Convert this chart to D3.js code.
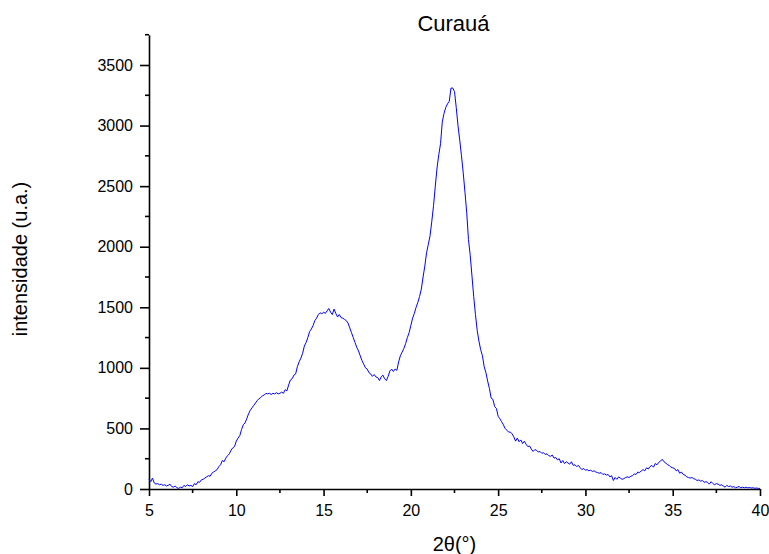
<!DOCTYPE html>
<html>
<head>
<meta charset="utf-8">
<script src="https://cdn.jsdelivr.net/npm/d3@7/dist/d3.min.js"></script>
<style>
html,body{margin:0;padding:0;background:#fff;}
text{font-family:"Liberation Sans",Arial,sans-serif;fill:#000;}
</style>
</head>
<body>
<svg id="chart" width="769" height="554"></svg>
<script>
const title = "Curauá";
const xLabel = "2θ(°)";
const yLabel = "intensidade (u.a.)";
const xTicks = [5, 10, 15, 20, 25, 30, 35, 40];
const yTicks = [0, 500, 1000, 1500, 2000, 2500, 3000, 3500];
const scanStart = 5.0;
const scanStep = 0.1;
const intensity = [
 80,60,90,50,40,45,35,40,30,35,
 25,30,40,20,15,25,10,5,15,10,
 30,20,35,25,30,20,45,35,60,55,
 75,80,90,100,110,105,130,140,150,160,
 185,200,235,225,255,275,290,320,340,350,
 395,420,440,490,530,545,580,620,650,670,
 690,710,730,745,755,770,775,790,785,790,
 780,790,785,795,785,790,800,790,820,810,
 860,900,910,940,950,1010,1050,1080,1120,1180,
 1210,1250,1300,1320,1350,1390,1410,1440,1455,1445,
 1460,1450,1470,1490,1460,1440,1485,1450,1420,1440,
 1415,1410,1400,1390,1370,1330,1290,1250,1210,1170,
 1140,1100,1060,1030,1000,990,960,950,930,945,
 925,920,895,925,940,910,895,930,975,990,
 970,990,980,1050,1100,1130,1160,1200,1250,1290,
 1350,1410,1450,1500,1540,1590,1650,1750,1840,1950,
 2020,2090,2210,2340,2500,2650,2760,2850,3030,3100,
 3150,3180,3200,3310,3310,3280,3150,3000,2880,2750,
 2610,2450,2280,2060,1930,1760,1590,1440,1310,1220,
 1150,1100,1010,960,890,830,750,740,680,665,
 600,580,555,530,500,485,470,470,455,430,
 395,420,390,405,375,395,370,350,355,330,
 310,325,320,305,310,295,300,285,290,275,
 270,280,255,260,240,250,215,235,210,225,
 215,205,225,195,200,185,195,175,160,170,
 155,160,150,155,145,150,140,135,130,135,
 120,125,115,120,100,110,70,95,80,100,
 90,80,85,95,100,95,105,110,125,120,
 140,135,150,160,150,175,165,185,195,180,
 210,200,220,230,245,225,215,200,195,180,
 175,170,150,160,130,140,120,115,100,95,
 90,95,85,80,70,75,65,70,55,60,
 55,40,60,45,35,45,40,30,35,25,
 15,30,20,25,15,20,10,15,20,10,
 15,10,15,10,12,8,10,6,8,5,
 5
];
const twoTheta = intensity.map((_, i) => +(scanStart + i * scanStep).toFixed(2));
const points = twoTheta.map((t, i) => ({x: t, y: intensity[i]}));

const svg = d3.select("#chart");
const left = 149, right = 760, bottom = 489;
const x = d3.scaleLinear().domain([5, 40]).range([left, right]);
const y = d3.scaleLinear().domain([0, 3500]).range([bottom, 65]);
const yTop = 3750;
const fontFam = '"Liberation Sans",Arial,sans-serif';

// minor ticks
const xMinor = d3.range(7.5, 40, 5);
const yMinor = d3.range(250, 3751, 500);

const gx = svg.append("g").attr("transform", `translate(0,${bottom})`);
gx.call(d3.axisBottom(x).tickValues(xTicks).tickSize(7).tickSizeOuter(0).tickPadding(9).tickFormat(d3.format("d")));
gx.append("g").selectAll("line").data(xMinor).join("line")
  .attr("x1", d => x(d)).attr("x2", d => x(d)).attr("y1", 0).attr("y2", 4)
  .attr("stroke", "#000").attr("stroke-width", 1.6);

const yFull = y.copy().domain([0, yTop]).range([bottom, y(yTop)]);
const gy = svg.append("g").attr("transform", `translate(${left},0)`);
gy.call(d3.axisLeft(yFull).tickValues(yTicks).tickSize(9).tickSizeOuter(0).tickPadding(7).tickFormat(d3.format("d")));
gy.append("g").selectAll("line").data(yMinor).join("line")
  .attr("x1", 0).attr("x2", -4).attr("y1", d => y(d)).attr("y2", d => y(d))
  .attr("stroke", "#000").attr("stroke-width", 1.6);

[gx, gy].forEach(g => {
  g.select(".domain").attr("stroke", "#000").attr("stroke-width", 1.6);
  g.selectAll(".tick line").attr("stroke", "#000").attr("stroke-width", 1.6);
  g.selectAll(".tick text").attr("font-size", 16).attr("font-family", fontFam).attr("fill", "#000");
});

// curve
const line = d3.line().x(d => x(d.x)).y(d => y(d.y));
svg.append("path").datum(points)
  .attr("d", line)
  .attr("fill", "none")
  .attr("stroke", "#0000ff")
  .attr("stroke-width", 1)
  .attr("stroke-linejoin", "round");

// title
svg.append("text").attr("x", 453.5).attr("y", 30.5)
  .attr("text-anchor", "middle").attr("font-size", 22).text(title);

// x label
svg.append("text").attr("x", (left + right) / 2).attr("y", 551)
  .attr("text-anchor", "middle").attr("font-size", 20).text(xLabel);

// y label
svg.append("text").attr("transform", `translate(27,259) rotate(-90)`)
  .attr("text-anchor", "middle").attr("font-size", 20).text(yLabel);
</script>
</body>
</html>
